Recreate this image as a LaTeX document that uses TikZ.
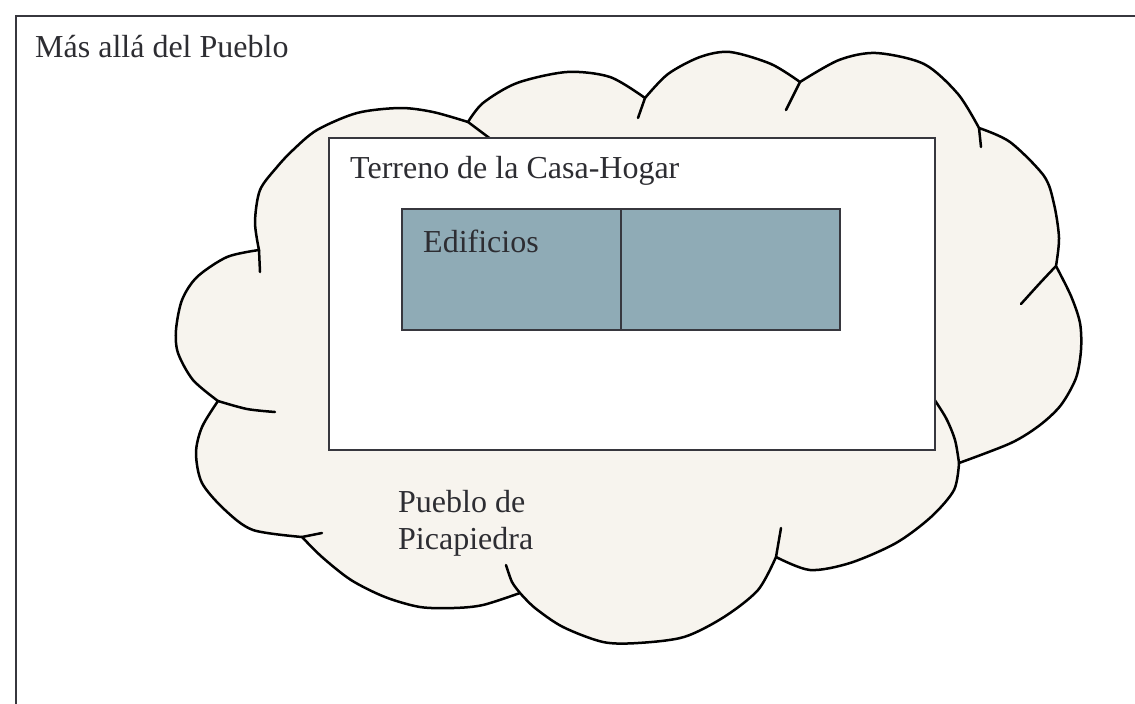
\documentclass[tikz,border=0pt]{standalone}
\usepackage{fontspec}
\setmainfont{Liberation Serif}
\usetikzlibrary{positioning}

\definecolor{cloudfill}{RGB}{247,244,238}
\definecolor{bldgfill}{RGB}{143,171,182}
\definecolor{linegray}{RGB}{55,55,62}
\definecolor{textgray}{RGB}{45,45,50}

\begin{document}
\begin{tikzpicture}[
    x=1pt, y=-1pt,
    frame/.style={draw=linegray, line width=2.4pt},
    cloudline/.style={draw=black, line width=2.5pt, line join=round, line cap=round},
    lbl/.style={inner sep=0pt, anchor=base west, font=\fontsize{32}{38}\selectfont, text=textgray},
    ground/.style={draw=linegray, line width=2.4pt, fill=white, outer sep=0pt, inner sep=0pt},
    bldg/.style={draw=linegray, line width=2.4pt, fill=bldgfill, outer sep=0pt, inner sep=0pt,
        minimum width=219pt, minimum height=121pt}
]
\useasboundingbox (0,0) rectangle (1135,704);

% Outer frame (runs off the page at right and bottom)
\draw[frame] (1145,16) -| (16,714);

% Cloud outline, bump by bump
\path[cloudline, fill=cloudfill]
    plot[smooth] coordinates {(259,250) (255,222) (260,190) (277,167) (293,150) (317,130) (357,113) (400,108) (433,112) (468,122)}
 -- plot[smooth] coordinates {(468,122) (483,103) (517,83) (567,72) (610,77) (645,98)}
 -- plot[smooth] coordinates {(645,98) (668,74) (700,57) (730,52) (771,64) (800,82)}
 -- plot[smooth] coordinates {(800,82) (839,60) (876,53) (924,64) (958,94) (979,128)}
 -- plot[smooth] coordinates {(979,128) (1010,142) (1044,176) (1054,204) (1059,238) (1056,266)}
 -- plot[smooth] coordinates {(1056,266) (1071,296) (1080,323) (1081,350) (1076,378) (1061,405) (1040,425) (1011,443) (959,463)}
 -- plot[smooth] coordinates {(959,463) (954,490) (931,517) (896,543) (850,563) (810,570) (776,557)}
 -- plot[smooth] coordinates {(776,557) (758,590) (724,617) (684,637) (638,643) (603,642) (563,627) (535,608) (520,593)}
 -- plot[smooth] coordinates {(520,593) (483,605) (454,608) (420,607) (385,597) (351,580) (322,557) (302,537)}
 -- plot[smooth] coordinates {(302,537) (253,530) (225,510) (202,483) (196,453) (202,427) (218,401)}
 -- plot[smooth] coordinates {(218,401) (193,380) (178,353) (176,330) (182,300) (197,277) (227,257) (259,250)}
 -- cycle;

% Inner ends of the bumps
\draw[cloudline] (260,272) -- (259,250);
\draw[cloudline] (468,122) -- (492,140);
\draw[cloudline] (638,118) -- (645,98);
\draw[cloudline] (786,110) -- (800,82);
\draw[cloudline] (979,128) -- (981,147);
\draw[cloudline] plot[smooth] coordinates {(1021,304) (1040,283) (1056,266)};
\draw[cloudline] plot[smooth] coordinates {(932,396) (946,418) (955,440) (959,463)};
\draw[cloudline] (781,528) -- (776,557);
\draw[cloudline] plot[smooth] coordinates {(520,593) (512,582) (506,565)};
\draw[cloudline] (302,537) -- (322,533);
\draw[cloudline] plot[smooth] coordinates {(218,401) (247,409) (275,412)};

% Terrain of the home
\node[ground, anchor=north west, minimum width=606pt, minimum height=312pt] (terreno) at (329,138) {};

% Buildings
\node[bldg, anchor=north west] (bldgL) at (402,209) {};
\node[bldg, right=0pt of bldgL] (bldgR) {};

% Labels
\node[lbl] (afuera) at (35,57) {Más allá del Pueblo};
\node[lbl] (terrenolbl) at (350,178) {Terreno de la Casa-Hogar};
\node[lbl] (edif) at (423,252) {Edificios};
\node[lbl] (pueblo) at (398,512) {Pueblo de};
\node[lbl] (picap) at (398,549) {Picapiedra};

\end{tikzpicture}
\end{document}
